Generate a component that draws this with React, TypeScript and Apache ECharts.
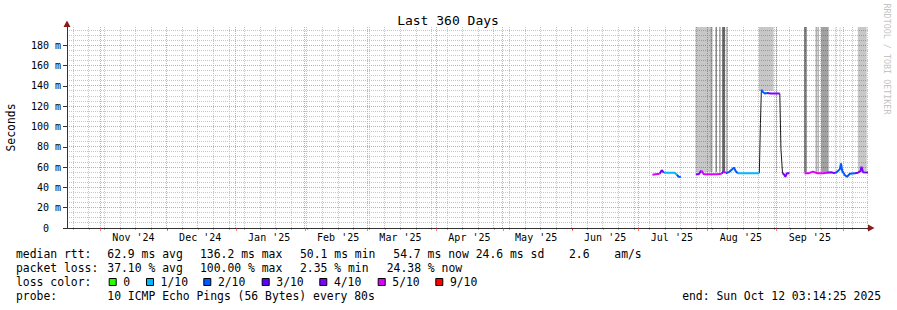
import React, { useEffect, useRef } from "react";
import * as echarts from "echarts";

// ---------- data ----------
const END_TIME = "2025-10-12 03:14:25";
const SPAN_DAYS = 360;

const monthStarts = [
  "2024-11-01", "2024-12-01", "2025-01-01", "2025-02-01", "2025-03-01", "2025-04-01",
  "2025-05-01", "2025-06-01", "2025-07-01", "2025-08-01", "2025-09-01", "2025-10-01",
];
const monthLabels = [
  "Nov '24", "Dec '24", "Jan '25", "Feb '25", "Mar '25", "Apr '25",
  "May '25", "Jun '25", "Jul '25", "Aug '25", "Sep '25",
];
const yTicks = [0, 20, 40, 60, 80, 100, 120, 140, 160, 180];
const Y_MAX = 198;

const lossLabels = ["0", "1/10", "2/10", "3/10", "4/10", "5/10", "9/10"];
const lossColors = ["#26ff00", "#00b8ff", "#0059ff", "#5e00ff", "#7e00ff", "#dd00ff", "#ff0000"];

// median rtt (ms); loss = colour index of the segment arriving at the point, -1 = dark smoke edge
const medianTimes = [
  "2025-07-07 06:00", "2025-07-08 17:00", "2025-07-10 12:00", "2025-07-11 10:00", "2025-07-12 08:00",
  "2025-07-13 05:00", "2025-07-15 12:00", "2025-07-17 07:00", "2025-07-18 05:00", "2025-07-19 02:00",
  "2025-07-20 00:00", "2025-07-23 00:00",
  "2025-07-26 17:00", "2025-07-28 02:00", "2025-07-29 05:00", "2025-07-30 08:00", "2025-08-02 12:00",
  "2025-08-05 04:00", "2025-08-07 10:00", "2025-08-08 08:00", "2025-08-09 05:00", "2025-08-10 14:00",
  "2025-08-11 22:00", "2025-08-12 20:00", "2025-08-13 17:00", "2025-08-14 15:00", "2025-08-16 00:00",
  "2025-08-20 12:00", "2025-08-24 07:00", "2025-08-24 19:00", "2025-08-25 05:00", "2025-08-25 21:00",
  "2025-08-26 19:00", "2025-08-27 17:00", "2025-08-29 12:00", "2025-08-31 17:00", "2025-09-02 12:00",
  "2025-09-03 00:00", "2025-09-03 17:00", "2025-09-04 08:00", "2025-09-05 00:00", "2025-09-05 17:00",
  "2025-09-06 19:00", "2025-09-10 00:00",
  "2025-09-13 14:00", "2025-09-15 14:00", "2025-09-17 09:00", "2025-09-19 05:00", "2025-09-21 22:00",
  "2025-09-23 17:00", "2025-09-25 12:00", "2025-09-27 07:00", "2025-09-28 14:00", "2025-09-29 12:00",
  "2025-09-30 00:00", "2025-09-30 14:00", "2025-10-01 19:00", "2025-10-02 17:00", "2025-10-04 00:00",
  "2025-10-06 07:00", "2025-10-07 14:00", "2025-10-08 19:00", "2025-10-09 05:00", "2025-10-09 22:00",
  "2025-10-12 03:00",
];
const medianValues = [
  52.5, 53, 53.5, 57, 54.5, 54.5, 54.5, 54.5, 52.5, 50.5, 50.3, null,
  53, 53, 56.5, 53, 53, 53, 53.5, 56, 54, 55, 57.5, 59.5, 56, 54, 54, 54, 54, 103, 136.2, 134,
  132.5, 133, 132.5, 132.5, 132.5, 78, 54, 53, 50.5, 54, 54, null,
  54, 54, 55.5, 54, 54, 54.5, 55, 54, 56, 58, 63.6, 56, 52, 50.5, 53.5, 54, 54.5, 56, 60.3, 55, 54.7,
];
const medianLoss = [
  5, 5, 5, 4, 4, 1, 1, 1, 1, 2, 2, 2,
  4, 4, 4, 5, 5, 5, 5, 4, 5, 2, 2, 2, 2, 2, 1, 1, 1, -1, -1, 2,
  2, 2, 4, 4, 4, -1, -1, 4, 4, 4, 4, 4,
  4, 5, 5, 5, 5, 5, 4, 4, 2, 2, 2, 2, 2, 2, 2, 2, 4, 4, 4, 4, 4,
];

// smoke / loss shading: start, end, lower value (ms), darkness
const smokeStart = [
  "2025-07-26 14:00", "2025-08-02 05:00", "2025-08-04 15:00", "2025-08-06 08:00", "2025-08-07 14:00",
  "2025-08-09 12:00", "2025-08-24 02:00", "2025-08-31 19:00", "2025-09-13 12:00", "2025-09-14 00:00",
  "2025-09-18 15:00", "2025-09-19 12:00", "2025-09-21 00:00", "2025-09-27 05:00", "2025-09-29 10:00",
  "2025-10-07 14:00",
];
const smokeEnd = [
  "2025-08-02 05:00", "2025-08-03 06:00", "2025-08-05 05:00", "2025-08-06 20:00", "2025-08-08 22:00",
  "2025-08-09 23:00", "2025-08-30 17:00", "2025-09-01 04:00", "2025-09-14 00:00", "2025-09-14 17:00",
  "2025-09-19 02:00", "2025-09-19 23:00", "2025-09-24 11:00", "2025-09-27 14:00", "2025-09-29 19:00",
  "2025-10-11 13:00",
];
const smokeLow = [55, 55, 55, 55, 55, 55, 135, 55, 55, 55, 55, 55, 55, 56, 56, 56];
const smokeDark = [0.22, 0.33, 0.55, 0.5, 0.6, 0.45, 0.22, 0.2, 0.7, 0.4, 0.45, 0.45, 0.37, 0.15, 0.15, 0.22];

const statsMedian = ["median rtt:", "62.9 ms avg", "136.2 ms max", "50.1 ms min", "54.7 ms now", "24.6 ms sd", "2.6", "am/s"];
const statsLoss = ["packet loss:", "37.10 % avg", "100.00 % max", "2.35 % min", "24.38 % now"];
const probeText = ["probe:", "10 ICMP Echo Pings (56 Bytes) every 80s"];
const endText = "end: Sun Oct 12 03:14:25 2025";
const titleText = "Last 360 Days";
const yAxisName = "Seconds";
const watermark = "RRDTOOL / TOBI OETIKER";

// ---------- helpers ----------
const DAY = 86400000;
function ts(s: string): number {
  const [d, h] = s.split(" ");
  const [Y, M, D] = d.split("-").map(Number);
  const [hh, mm, ss] = (h || "0:0:0").split(":").map(Number);
  return Date.UTC(Y, M - 1, D, hh || 0, mm || 0, ss || 0);
}
const nb = (s: string) => s.replace(/ /g, "\u00a0");
const MONO = "'DejaVu Sans Mono', monospace";
const snap = (p: number) => Math.round(p - 0.5) + 0.5;

export default function App() {
  const ref = useRef<HTMLDivElement>(null);
  useEffect(() => {
    if (!ref.current) return;
    const chart = echarts.init(ref.current, undefined, { renderer: "svg" });
    const endMs = ts(END_TIME);
    const startMs = endMs - SPAN_DAYS * DAY;

    const monthMs = monthStarts.map(ts);
    const labelMs = monthLabels.map((_, i) => monthMs[i] + 15 * DAY);
    const labelMap = new Map<number, string>();
    labelMs.forEach((v, i) => labelMap.set(v, monthLabels[i]));

    // weekly grid (Sundays)
    const weeks: number[] = [];
    let w = Date.UTC(2024, 9, 20);
    while (w < endMs) {
      weeks.push(w);
      w += 7 * DAY;
    }

    const minorY: number[] = [];
    for (let v = 5; v < Y_MAX; v += 5) if (v % 20 !== 0) minorY.push(v);
    const majorY = yTicks.filter((v) => v > 0);

    const smokeAreas = smokeStart.map((s, i) => [
      { xAxis: ts(s), yAxis: smokeLow[i], itemStyle: { color: `rgba(0,0,0,${smokeDark[i]})` } },
      { xAxis: ts(smokeEnd[i]), yAxis: Y_MAX },
    ]);

    const pts = medianTimes.map((t, i) => [ts(t), medianValues[i]]);
    function segmentData(code: number) {
      const data: any[] = [];
      let last = -2;
      for (let i = 1; i < pts.length; i++) {
        if (medianValues[i - 1] == null || medianValues[i] == null) continue;
        if (medianLoss[i] !== code) continue;
        if (last !== i - 1) {
          if (data.length) data.push([pts[i - 1][0], "-"]);
          data.push(pts[i - 1]);
        }
        data.push(pts[i]);
        last = i;
      }
      return data;
    }

    const series: any[] = [
      {
        type: "line",
        name: "smoke",
        data: [],
        z: 1,
        silent: true,
        markArea: { silent: true, animation: false, data: smokeAreas },
      },
      {
        type: "line",
        name: "edge",
        data: segmentData(-1),
        z: 3,
        symbol: "none",
        connectNulls: false,
        lineStyle: { color: "#1a1a1a", width: 1 },
      },
      ...lossColors.map((c, k) => ({
        type: "line",
        name: lossLabels[k],
        data: segmentData(k),
        z: 4,
        symbol: "none",
        connectNulls: false,
        lineStyle: { color: c, width: 2 },
      })),
    ];

    const textEl = (text: string, x: number, y: number, extra: any = {}) => ({
      type: "text",
      x,
      y,
      silent: true,
      ...extra,
      style: {
        text: nb(text),
        font: `11.4px ${MONO}`,
        fill: "#000",
        verticalAlign: "middle",
        align: "left",
        ...(extra.style || {}),
      },
    });

    const medX = [16, 107.3, 200, 300, 393.3, 475.7, 569, 614.3];
    const lossX = [16, 107.3, 200, 300, 386.7];
    const boxX = [108.7, 146, 203.3, 261.7, 319.3, 377.7, 435.3];

    const graphic: any[] = [
      textEl(titleText, 448, 20, { style: { font: `13px ${MONO}`, align: "center" } }),
      textEl(yAxisName, 10.8, 127.5, { rotation: Math.PI / 2, style: { align: "center" } }),
      textEl(watermark, 887, 59, { rotation: -Math.PI / 2, style: { font: `8.4px ${MONO}`, fill: "#c4c4c4", align: "center" } }),
      ...statsMedian.map((s, i) => textEl(s, medX[i], 254)),
      ...statsLoss.map((s, i) => textEl(s, lossX[i], 268)),
      textEl("loss color:", 16, 282),
      ...lossLabels.map((s, i) => textEl(s, boxX[i] + 14.6, 282)),
      ...lossColors.map((c, i) => ({
        type: "rect",
        silent: true,
        shape: { x: boxX[i] + 0.5, y: 278.5, width: 7, height: 7 },
        style: { fill: c, stroke: "#000", lineWidth: 1 },
      })),
      textEl(probeText[0], 16, 296),
      textEl(probeText[1], 107.3, 296),
      textEl(endText, 881, 296, { style: { align: "right" } }),
      {
        type: "polygon",
        silent: true,
        z: 10,
        shape: { points: [[63.5, 27], [70.5, 27], [67, 20.5]] },
        style: { fill: "#8b1a1a" },
      },
      {
        type: "polygon",
        silent: true,
        z: 10,
        shape: { points: [[868, 224.5], [868, 231.5], [874.5, 228]] },
        style: { fill: "#8b1a1a" },
      },
    ];

    const option: any = {
      animation: false,
      backgroundColor: "#ffffff",
      grid: { left: 67, right: 29, top: 27, bottom: 82 },
      xAxis: [
        {
          type: "value",
          min: startMs,
          max: endMs,
          splitLine: { show: false },
          axisLine: { show: true, lineStyle: { color: "#333", width: 1 } },
          axisTick: {
            show: true,
            customValues: monthMs,
            length: 3,
            lineStyle: { color: "rgba(240,40,40,0.6)" },
          },
          axisLabel: {
            show: true,
            customValues: labelMs,
            formatter: (v: number) => labelMap.get(v) || "",
            color: "#000000",
            fontFamily: MONO,
            fontSize: 10,
            margin: 4,
            hideOverlap: false,
          },
        },
        {
          type: "value",
          min: startMs,
          max: endMs,
          position: "bottom",
          splitLine: { show: false },
          axisLine: { show: false },
          axisLabel: { show: false },
          axisTick: {
            show: true,
            customValues: weeks,
            length: 2,
            lineStyle: { color: "rgba(0,0,0,0.3)" },
          },
        },
      ],
      yAxis: {
        type: "value",
        min: 0,
        max: Y_MAX,
        splitLine: { show: false },
        axisLine: { show: true, lineStyle: { color: "#333", width: 1 } },
        axisTick: { show: true, customValues: yTicks, length: 4, lineStyle: { color: "#333" } },
        axisLabel: {
          show: true,
          customValues: yTicks,
          formatter: (v: number) => (v === 0 ? "0\u00a0\u00a0" : `${v}\u00a0m`),
          color: "#000000",
          fontFamily: MONO,
          fontSize: 10,
          margin: 6,
        },
      },
      series,
      graphic,
    };
    chart.setOption(option);

    // grid lines placed through the chart's own scales, snapped to whole pixels
    const px = (x: number, y: number) =>
      chart.convertToPixel({ xAxisIndex: 0, yAxisIndex: 0 }, [x, y]) as number[];
    const x0 = px(startMs, 0)[0];
    const x1 = px(endMs, 0)[0];
    const yBottom = px(startMs, 0)[1];
    const yTop = px(startMs, Y_MAX)[1];
    const hLine = (v: number, color: string) => {
      const y = snap(px(startMs, v)[1]);
      return {
        type: "line",
        silent: true,
        z: 0,
        shape: { x1: Math.round(x0), y1: y, x2: Math.round(x1), y2: y },
        style: { stroke: color, lineWidth: 1, lineDash: [1, 1] },
      };
    };
    const vLine = (t: number, color: string) => {
      const x = snap(px(t, 0)[0]);
      return {
        type: "line",
        silent: true,
        z: 0,
        shape: { x1: x, y1: Math.round(yTop), x2: x, y2: Math.round(yBottom) },
        style: { stroke: color, lineWidth: 1, lineDash: [1, 1] },
      };
    };
    const MINOR = "#c6c6c6";
    const MAJOR = "#f29a9a";
    const gridGraphic = [
      ...minorY.map((v) => hLine(v, MINOR)),
      ...weeks.map((t) => vLine(t, MINOR)),
      ...majorY.map((v) => hLine(v, MAJOR)),
      ...monthMs.map((t) => vLine(t, MAJOR)),
    ];
    chart.setOption({ graphic: [...graphic, ...gridGraphic] });

    return () => chart.dispose();
  }, []);
  return <div ref={ref} style={{ position: "fixed", left: 0, top: 0, width: 897, height: 310 }} />;
}
